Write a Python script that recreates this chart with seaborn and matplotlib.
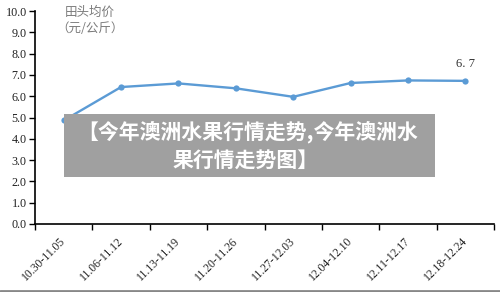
import matplotlib
matplotlib.use("Agg")
import matplotlib.pyplot as plt
import seaborn as sns
import pandas as pd
from matplotlib.patches import Rectangle
from matplotlib.lines import Line2D

weeks = ["10.30-11.05", "11.06-11.12", "11.13-11.19", "11.20-11.26",
         "11.27-12.03", "12.04-12.10", "12.11-12.17", "12.18-12.24"]
prices = [4.86, 6.43, 6.6, 6.37, 5.97, 6.62, 6.74, 6.72]
yticks = [0, 1, 2, 3, 4, 5, 6, 7, 8, 9, 10]
unit_title = ["田头均价", "（元/公斤）"]
overlay_lines = ["【今年澳洲水果行情走势,今年澳洲水", "果行情走势图】"]
last_label = "6. 7"

sns.set_theme(style="white")
plt.rcParams["font.family"] = ["Liberation Serif", "Noto Sans CJK SC", "DejaVu Sans"]

df = pd.DataFrame({"week": weeks, "price": prices})

fig = plt.figure(figsize=(5.0, 2.92), dpi=100)
ax = fig.add_axes([35 / 500, 1 - 224 / 292, (494 - 35) / 500, (224 - 11) / 292])

sns.lineplot(data=df, x="week", y="price", sort=False, ax=ax,
             color="#5b9bd5", linewidth=1.7, marker="o", markersize=4.5,
             markeredgewidth=0, markeredgecolor="#5b9bd5")

ax.set_ylim(0, 10)
ax.set_xlim(-0.5, len(weeks) - 0.5)
ax.set_yticks(yticks)
ax.set_yticklabels([f"{v:.1f}" for v in yticks], fontsize=8.7, color="#222222")
ax.set_xticks(range(len(weeks)))
ax.set_xticklabels(weeks, rotation=45, ha="right", va="center",
                   rotation_mode="anchor", fontsize=8.4, color="#222222")
ax.set_xticks([i - 0.5 for i in range(len(weeks) + 1)], minor=True)
ax.tick_params(axis="x", which="major", length=0, pad=11)
ax.tick_params(axis="x", which="minor", length=4, width=1.0, color="black", direction="out", bottom=True)
ax.tick_params(axis="y", which="major", length=4, width=1.0, color="black", direction="out", left=True, pad=2)
ax.set_xlabel("")
ax.set_ylabel("")
for s in ["top", "right"]:
    ax.spines[s].set_visible(False)
for s in ["left", "bottom"]:
    ax.spines[s].set_color("black")
    ax.spines[s].set_linewidth(1.2)

# data label for last point
ax.annotate(last_label, (len(weeks) - 1, prices[-1]), xytext=(0, 8),
            textcoords="offset points", ha="center", va="bottom",
            fontsize=9, color="#333333")

# unit title
fig.text(90 / 500, 1 - 12 / 292, unit_title[0], ha="center", va="center",
         fontsize=9, color="#7a7a7a", family=["Noto Sans CJK SC"])
fig.text(90 / 500, 1 - 28.5 / 292, unit_title[1], ha="center", va="center",
         fontsize=9, color="#7a7a7a", family=["Noto Sans CJK SC"])

# overlay box
fig.patches.append(Rectangle((64 / 500, 1 - 177 / 292), 371 / 500, 63 / 292,
                             transform=fig.transFigure, facecolor="#a0a0a0",
                             edgecolor="none", zorder=5))
fig.text(248 / 500, 1 - 132 / 292, overlay_lines[0], ha="center", va="center",
         fontsize=15, color="white", fontweight="bold",
         family=["Noto Sans CJK SC", "DejaVu Sans"], zorder=6)
fig.text(246 / 500, 1 - 160 / 292, overlay_lines[1], ha="center", va="center",
         fontsize=15, color="white", fontweight="bold",
         family=["Noto Sans CJK SC", "DejaVu Sans"], zorder=6)

# bottom grey border
fig.lines.append(Line2D([0, 1], [1.5 / 292, 1.5 / 292], transform=fig.transFigure,
                        color="#888888", linewidth=2))

fig.savefig("out.png", dpi=100)
